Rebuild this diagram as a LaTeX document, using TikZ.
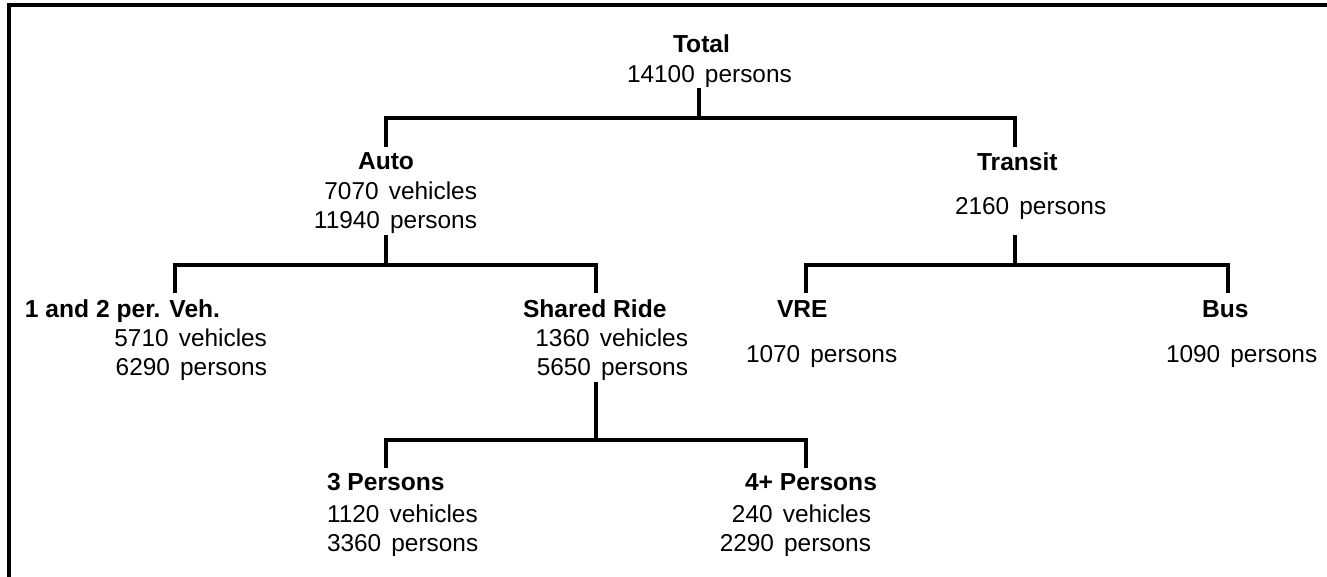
\documentclass[tikz,border=0pt]{standalone}
\usepackage{fontspec}
\setmainfont[WordSpace=1.5]{Liberation Sans}
\newfontfamily\hdfont{Liberation Sans}
\begin{document}
\begin{tikzpicture}[x=0.5pt,y=-0.5pt,
  lbl/.style={inner sep=0pt,outer sep=0pt,font=\fontsize{12.2pt}{14pt}\selectfont},
  hd/.style={lbl,font=\hdfont\fontsize{12.3pt}{14pt}\selectfont\bfseries},
  tree/.style={line width=1.75pt,line join=miter,line cap=butt},
  frame/.style={line width=1.9pt,line join=miter}]
\useasboundingbox (0,0) rectangle (1327,577);
\draw[frame] (9,577) -- (9,5) -- (1327,5);
% labels
\node[hd,anchor=base west] (total) at (673,53) {Total};
\node[lbl,anchor=base west] (totalp) at (627,83) {14100 persons};
\node[hd,anchor=base west] (auto) at (358,170) {Auto};
\node[lbl,anchor=base east] (autov) at (477,200) {7070 vehicles};
\node[lbl,anchor=base east] (autop) at (477,229) {11940 persons};
\node[hd,anchor=base west] (transit) at (977,171) {Transit};
\node[lbl,anchor=base west] (transitp) at (955,215) {2160 persons};
\node[hd,anchor=base west] (one) at (25,317) {1 and 2 per. Veh.};
\node[lbl,anchor=base east] (onev) at (267,346) {5710 vehicles};
\node[lbl,anchor=base east] (onep) at (267,375) {6290 persons};
\node[hd,anchor=base west] (shared) at (523,317) {Shared Ride};
\node[lbl,anchor=base east] (sharedv) at (688,346) {1360 vehicles};
\node[lbl,anchor=base east] (sharedp) at (688,375) {5650 persons};
\node[hd,anchor=base west] (vre) at (777,317) {VRE};
\node[lbl,anchor=base west] (vrep) at (746,362) {1070 persons};
\node[hd,anchor=base west] (bus) at (1202,317) {Bus};
\node[lbl,anchor=base west] (busp) at (1166,362) {1090 persons};
\node[hd,anchor=base west] (three) at (327,490) {3 Persons};
\node[lbl,anchor=base west] (threev) at (327,522) {1120 vehicles};
\node[lbl,anchor=base west] (threep) at (327,551) {3360 persons};
\node[hd,anchor=base west] (four) at (745,490) {4+ Persons};
\node[lbl,anchor=base east] (fourv) at (871,522) {240 vehicles};
\node[lbl,anchor=base east] (fourp) at (871,551) {2290 persons};
% junction points
\coordinate (totstem) at (699,88);   \coordinate (totbar) at (699,118);
\coordinate (autotop) at (386,147);  \coordinate (transtop) at (1015,147);
\coordinate (autostem) at (386,235); \coordinate (autobar) at (386,265);
\coordinate (onetop) at (175,293);   \coordinate (sharedtop) at (596,293);
\coordinate (transstem) at (1015,235); \coordinate (transbar) at (1015,265);
\coordinate (vretop) at (806,293);   \coordinate (bustop) at (1228,293);
\coordinate (sharedstem) at (596,382); \coordinate (sharedbar) at (596,440);
\coordinate (threetop) at (386,468); \coordinate (fourtop) at (806,468);
% connectors
\draw[tree] (totstem) -- (totbar);
\draw[tree] (autotop) -- (autotop |- totbar) -- (transtop |- totbar) -- (transtop);
\draw[tree] (autostem) -- (autobar);
\draw[tree] (onetop) -- (onetop |- autobar) -- (sharedtop |- autobar) -- (sharedtop);
\draw[tree] (transstem) -- (transbar);
\draw[tree] (vretop) -- (vretop |- transbar) -- (bustop |- transbar) -- (bustop);
\draw[tree] (sharedstem) -- (sharedbar);
\draw[tree] (threetop) -- (threetop |- sharedbar) -- (fourtop |- sharedbar) -- (fourtop);
\end{tikzpicture}
\end{document}
